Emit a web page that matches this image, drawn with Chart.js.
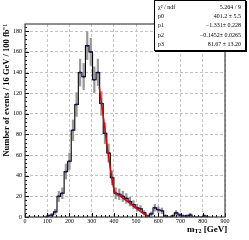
<!DOCTYPE html>
<html>
<head>
<meta charset="utf-8">
<script src="https://cdn.jsdelivr.net/npm/chart.js@4.4.0/dist/chart.umd.min.js"></script>
<style>
  body { margin: 0; background: #fff; }
  #wrap { position: relative; width: 249px; height: 240px; }
  #stats {
    position: absolute; left: 154px; top: 0px; width: 90px; height: 49px;
    border: 1px solid #000; box-shadow: 1px 1px 0 #000; background: #fff;
    font: 6px "Liberation Serif", serif; color: #000;
  }
  #stats .row { position: absolute; left: 3px; right: 4px; height: 9px; line-height: 9px; }
  #stats .row span:last-child { position: absolute; right: 0; }
  #xtitle {
    position: absolute; left: 187px; top: 224px;
    font: bold 9px "Liberation Serif", serif; color: #000; white-space: nowrap;
  }
  #xtitle sub { font-size: 6px; vertical-align: -1px; }
</style>
</head>
<body>
<div id="wrap">
  <canvas id="mt2Chart" width="249" height="240"></canvas>
  <div id="stats"></div>
  <div id="xtitle">m<sub>T2</sub> [GeV]</div>
</div>
<script>
// bin low edges (16 GeV bins)
const binLow = [80, 96, 112, 128, 144, 160, 176, 192, 208, 224, 240, 256, 272, 288, 304, 320,
  336, 352, 368, 384, 400, 416, 432, 448, 464, 480, 496, 512, 528, 544, 560, 576, 592, 608,
  624, 640, 656, 672, 688, 704, 720, 736, 752, 768, 784, 800, 816];
const binWidth = 16;
const counts = [0, 1, 2, 5, 20, 23, 44, 54, 84, 109, 140, 136, 166, 160, 133, 140,
  110, 81, 62, 38, 23, 22, 20, 18, 15, 12, 9, 8, 4, 1, 3, 9, 7, 6,
  1, 0, 1, 4, 2, 1, 1, 2, 0, 0, 0, 1, 0];
const errors = [0, 1.1, 1.6, 2.5, 5, 5.3, 7.3, 8, 10, 11.5, 13, 12.8, 13.5, 13.2, 12.5, 13,
  11.5, 10, 8.7, 6.8, 5.3, 5.2, 5, 4.7, 4.3, 3.8, 3.3, 3.1, 2.2, 1.1, 1.9, 3.3, 2.9, 2.7,
  1.1, 0, 1.1, 2.2, 1.6, 1.1, 1.1, 1.6, 0, 0, 0, 1.1, 0];

// fit curve
const fitX = [334, 352, 368, 384, 400, 410, 430, 452, 480, 510, 540, 552];
const fitY = [126, 98, 71, 47, 27, 22.5, 20, 16.5, 12, 7, 2.5, 0.8];

const xTicks = [0, 100, 200, 300, 400, 500, 600, 700, 800, 900];
const yTicks = [0, 20, 40, 60, 80, 100, 120, 140, 160, 180];

const statsRows = [
  ["χ² / ndf", "5.264 / 9"],
  ["p0", "401.2 ± 5.5"],
  ["p1", "−1.331± 0.228"],
  ["p2", "−0.1452± 0.0265"],
  ["p3", "81.67 ± 13.20"],
];

const statsBox = document.getElementById("stats");
statsRows.forEach(function (r, i) {
  const row = document.createElement("div");
  row.className = "row";
  row.style.top = (2 + i * 9.2) + "px";
  row.innerHTML = "<span>" + r[0] + "</span><span>" + r[1] + "</span>";
  statsBox.appendChild(row);
});

const histLine = binLow.map(function (x, i) { return { x: x, y: counts[i] }; });
histLine.push({ x: binLow[binLow.length - 1] + binWidth, y: 0 });

const errBars = [];
const markers = [];
binLow.forEach(function (x, i) {
  if (counts[i] > 0) {
    const c = x + binWidth / 2;
    errBars.push({ x: c, y: [Math.max(0, counts[i] - errors[i]), counts[i] + errors[i]] });
    markers.push({ x: c, y: counts[i] });
  }
});

const fitLine = fitX.map(function (x, i) { return { x: x, y: fitY[i] }; });

const frameTicks = {
  id: "frameTicks",
  afterDatasetsDraw(chart) {
    const ctx = chart.ctx;
    const a = chart.chartArea;
    const xs = chart.scales.x;
    const ys = chart.scales.y;
    ctx.save();
    ctx.strokeStyle = "#000";
    ctx.lineWidth = 1;
    ctx.beginPath();
    for (let v = 0; v <= 900; v += 20) {
      const px = Math.round(xs.getPixelForValue(v)) + 0.5;
      const len = v % 100 === 0 ? 4 : 2;
      ctx.moveTo(px, a.bottom);
      ctx.lineTo(px, a.bottom - len);
    }
    for (let v = 0; v <= 184; v += 4) {
      const py = Math.round(ys.getPixelForValue(v)) + 0.5;
      const len = v % 20 === 0 ? 4 : 2;
      ctx.moveTo(a.left, py);
      ctx.lineTo(a.left + len, py);
    }
    ctx.stroke();
    ctx.strokeStyle = "#444";
    ctx.lineWidth = 1.2;
    ctx.strokeRect(a.left, a.top, a.right - a.left, a.bottom - a.top);
    ctx.restore();
  },
};

new Chart(document.getElementById("mt2Chart"), {
  type: "line",
  data: {
    datasets: [
      {
        type: "bar",
        data: errBars,
        backgroundColor: "#999999",
        barThickness: 1.6,
        grouped: false,
        order: 4,
      },
      {
        data: histLine,
        borderColor: "#000",
        borderWidth: 1.1,
        stepped: true,
        pointRadius: 0,
        fill: false,
        order: 3,
      },
      {
        type: "scatter",
        data: markers,
        pointStyle: "rect",
        pointRadius: 1,
        backgroundColor: "#1c1c8c",
        borderColor: "#1c1c8c",
        borderWidth: 0.5,
        order: 2,
      },
      {
        data: fitLine,
        borderColor: "#e00000",
        borderWidth: 1.5,
        pointRadius: 0,
        tension: 0.3,
        cubicInterpolationMode: "monotone",
        fill: false,
        order: 1,
      },
    ],
  },
  options: {
    responsive: false,
    animation: false,
    layout: { padding: { top: 24, right: 24, left: 0, bottom: 0 } },
    plugins: { legend: { display: false }, tooltip: { enabled: false } },
    scales: {
      x: {
        type: "linear",
        min: 0,
        max: 900,
        offset: false,
        afterFit: function (s) { s.height = 23; },
        afterBuildTicks: function (s) { s.ticks = xTicks.map(function (v) { return { value: v }; }); },
        ticks: {
          padding: 1,
          maxRotation: 0,
          autoSkip: false,
          color: "#000",
          font: { family: "Liberation Serif", size: 6 },
        },
        grid: { color: "#c4c4c4", lineWidth: 1, drawTicks: false, offset: false },
        border: { display: false, dash: [3, 2] },
      },
      y: {
        type: "linear",
        min: 0,
        max: 187,
        afterFit: function (s) { s.width = 25; },
        afterBuildTicks: function (s) { s.ticks = yTicks.map(function (v) { return { value: v }; }); },
        ticks: {
          padding: 3,
          color: "#000",
          font: { family: "Liberation Serif", size: 6 },
        },
        grid: { color: "#c4c4c4", lineWidth: 1, drawTicks: false },
        border: { display: false, dash: [3, 2] },
        title: {
          display: true,
          text: "Number of events / 16 GeV / 100 fb⁻¹",
          align: "end",
          color: "#000",
          padding: { top: 2, bottom: 0 },
          font: { family: "Liberation Serif", size: 8.5, weight: "bold" },
        },
      },
    },
  },
  plugins: [frameTicks],
});
</script>
</body>
</html>
